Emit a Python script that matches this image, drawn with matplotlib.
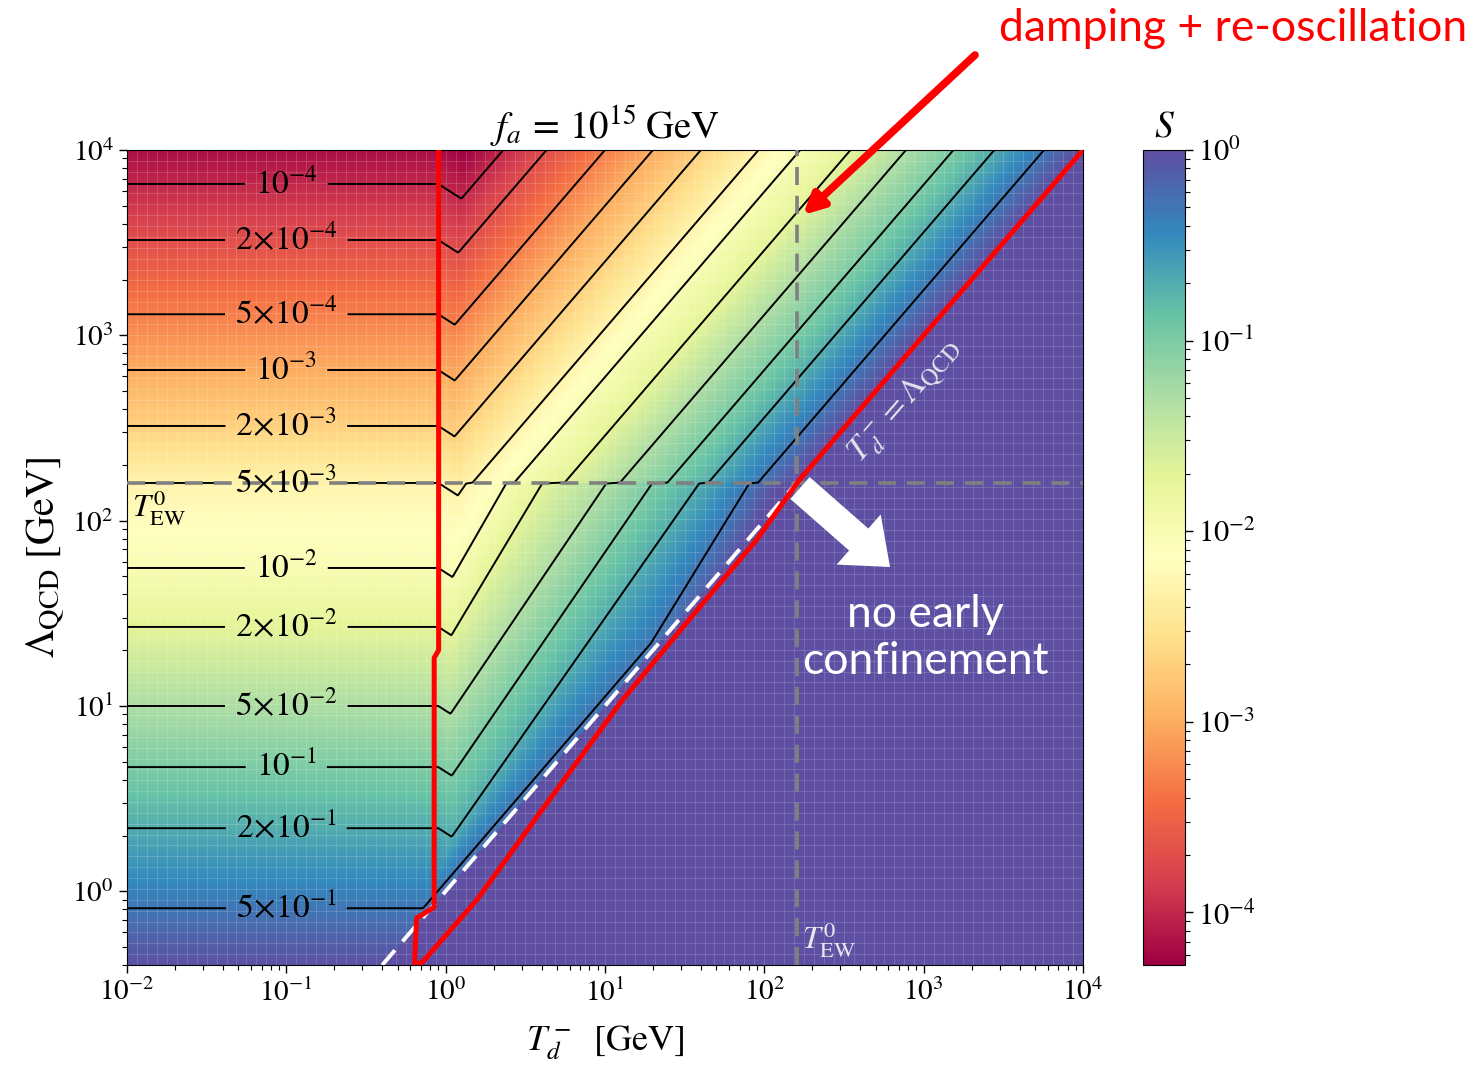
import numpy as np
import matplotlib.pyplot as plt
from matplotlib.colors import LogNorm

plt.rcParams['mathtext.fontset'] = 'stix'
plt.rcParams['font.family'] = 'STIXGeneral'

# contour levels of S
levels = [1e-4, 2e-4, 5e-4, 1e-3, 2e-3, 5e-3, 1e-2, 2e-2, 5e-2, 1e-1, 2e-1, 5e-1]
level_text = [r'$10^{-4}$', r'$2\!\times\!10^{-4}$', r'$5\!\times\!10^{-4}$',
              r'$10^{-3}$', r'$2\!\times\!10^{-3}$', r'$5\!\times\!10^{-3}$',
              r'$10^{-2}$', r'$2\!\times\!10^{-2}$', r'$5\!\times\!10^{-2}$',
              r'$10^{-1}$', r'$2\!\times\!10^{-1}$', r'$5\!\times\!10^{-1}$']

# Lambda_QCD [GeV] of each contour in the flat part (small T_d)
lam_flat = [6560, 3270, 1300, 650, 324, 160, 55.5, 26.7, 10.0, 4.68, 2.19, 0.81]
# T_d [GeV] where each contour reaches Lambda_QCD = 1e4 GeV
t_top = [2.3, 4.3, 10, 20, 40, 92, 168, 348, 775, 1540, 2780, 5700]

# below T_EW: anchor point of each contour and T_d where it meets T_EW
low_T = [1.14, 1.107, 1.107, 1.06, 1.09, 1.09, 20.0]
low_lam = [129, 49.7, 24.7, 8.93, 4.19, 1.96, 22.7]
low_T_ew = [1.355, 2.415, 4.06, 10.26, 19.9, 39.3, 80.9]

T_EW = 160.0
T_kink = 0.90
kink_slope = 0.55

# boundary of the damping + re-oscillation region
red_T = [0.904, 0.904, 0.848, 0.848, 0.658, 0.638, 0.707, 1.567, 3.89, 12.9,
         39.3, 89.1, 166, 1e4]
red_L = [1e4, 20.0, 18.2, 0.822, 0.716, 0.41, 0.41, 0.897, 2.64, 10.8,
         34.2, 78.5, 166, 1e4]

xmin, xmax = 1e-2, 1e4
ymin, ymax = 0.40, 1e4
vmin, vmax = 5.3e-5, 1.0
x_ticks = [1e-2, 1e-1, 1e0, 1e1, 1e2, 1e3, 1e4]
y_ticks = [1e0, 1e1, 1e2, 1e3, 1e4]


def interp_ext(x, xp, fp):
    # linear interpolation, linear extrapolation on both ends
    x = np.asarray(x, dtype=float)
    y = np.interp(x, xp, fp)
    lo = x < xp[0]
    hi = x > xp[-1]
    y[lo] = fp[0] + (x[lo] - xp[0]) * (fp[1] - fp[0]) / (xp[1] - xp[0])
    y[hi] = fp[-1] + (x[hi] - xp[-1]) * (fp[-1] - fp[-2]) / (xp[-1] - xp[-2])
    return y


logS_lev = np.log10(levels)
tx = np.linspace(np.log10(xmin), np.log10(xmax), 900)
ly = np.linspace(np.log10(ymin), np.log10(ymax), 800)
T, L = np.meshgrid(tx, ly)
lew = np.log10(T_EW)

# flat regime, with the small kink near T_d ~ 1 GeV
s_flat = interp_ext(L + kink_slope * np.maximum(T - np.log10(T_kink), 0),
                    np.log10(lam_flat)[::-1], logS_lev[::-1])

# diagonal regime above T_EW: S depends on Lambda/T
c_up = 4 - np.log10(t_top)
s_up = interp_ext(L - T, c_up[::-1], logS_lev[::-1])

# diagonal regime below T_EW
la = np.log10(low_lam)
ta = np.log10(low_T)
te = np.log10(low_T_ew)
q = (lew - la) / (te - ta)
logS_low = logS_lev[5:]
s_low = np.zeros_like(L)
for j, t in enumerate(tx):
    lines = la + q * (t - ta)
    lines = np.maximum(lines, t + 0.05)
    for i in range(len(lines) - 2, -1, -1):
        lines[i] = max(lines[i], lines[i + 1] + 1e-3)
    s_low[:, j] = interp_ext(ly, lines[::-1], logS_low[::-1])

logS = np.where(L >= lew, np.maximum(s_flat, s_up), np.maximum(s_flat, s_low))
logS = np.minimum(logS, 0.0)
logS[L < T] = 0.0
S = np.clip(10 ** logS, vmin, vmax)

X = 10 ** tx
Y = 10 ** ly

fig = plt.figure(figsize=(14.76, 10.70), dpi=100)
ax = fig.add_axes([0.0860, 0.0981, 0.6477, 0.7617])
cax = fig.add_axes([0.7744, 0.0981, 0.0285, 0.7617])

norm = LogNorm(vmin=vmin, vmax=vmax)
mesh = ax.pcolormesh(X, Y, S, cmap='Spectral', norm=norm, shading='auto',
                     rasterized=True)
ax.set_xscale('log')
ax.set_yscale('log')
ax.set_xlim(xmin, xmax)
ax.set_ylim(ymin, ymax)
ax.set_xticks(x_ticks)
ax.set_yticks(y_ticks)

# light cell grid
for gx in np.geomspace(xmin, xmax, 97)[1:-1]:
    ax.axvline(gx, color='white', alpha=0.18, lw=0.6, zorder=1.5)
for gy in np.geomspace(ymin, ymax, 76)[1:-1]:
    ax.axhline(gy, color='white', alpha=0.18, lw=0.6, zorder=1.5)

cs = ax.contour(X, Y, S, levels=levels, colors='k', linewidths=1.4, zorder=3)
fmt = dict(zip(cs.levels, level_text))
ax.clabel(cs, cs.levels, fmt=fmt, inline=True, inline_spacing=10, fontsize=24,
          manual=[(0.1, lam) for lam in lam_flat])

# reference lines
ax.axhline(T_EW, color='gray', lw=2.6, ls=(0, (5, 3)), zorder=4)
ax.axvline(T_EW, color='gray', lw=2.6, ls=(0, (5, 3)), zorder=4)
ax.plot([ymin, xmax], [ymin, xmax], color='white', lw=2.8, ls=(0, (5, 3)),
        zorder=5)
ax.plot(red_T, red_L, color='#ff0000', lw=3.6, zorder=6)

ax.text(0.0108, 150, r'$T_{\mathrm{EW}}^{0}$', fontsize=23, ha='left', va='top',
        zorder=7)
ax.text(172, 0.43, r'$T_{\mathrm{EW}}^{0}$', fontsize=23, ha='left',
        va='bottom', color='#e8e8f0', zorder=7)
ax.text(770, 440, r'$T_d^- = \Lambda_{\mathrm{QCD}}$', fontsize=24,
        color='#e4e4ec', rotation=49, ha='center', va='center',
        rotation_mode='anchor', zorder=7)

ax.set_title(r'$f_a\,=\,10^{15}\;\mathrm{GeV}$', fontsize=28, pad=8)
ax.set_xlabel(r'$T_d^-\ \ [\mathrm{GeV}]$', fontsize=26, labelpad=12)
ax.set_ylabel(r'$\Lambda_{\mathrm{QCD}}\ [\mathrm{GeV}]$', fontsize=29,
              labelpad=4)
ax.tick_params(which='major', labelsize=21, length=6, width=1)
ax.tick_params(which='minor', length=3.5, width=0.8)

cb = fig.colorbar(mesh, cax=cax)
cb.set_ticks([1e-4, 1e-3, 1e-2, 1e-1, 1e0])
cb.ax.tick_params(which='major', labelsize=22, length=6, width=1)
cb.ax.tick_params(which='minor', length=3.5, width=0.8)
cax.set_title(r'$S$', fontsize=27, pad=10)

# annotations
fig.text(0.8354, 0.9738, 'damping + re-oscillation', color='#ff0000',
         fontsize=32, family=['Lato', 'DejaVu Sans'], ha='center', va='center')
ax.annotate('', xy=(0.5440, 0.7991), xycoords='figure fraction',
            xytext=(0.6606, 0.9486), textcoords='figure fraction',
            arrowprops=dict(arrowstyle='-|>,head_length=1.2,head_width=0.6',
                            color='#ff0000', lw=5.5, shrinkA=0, shrinkB=0),
            annotation_clip=False, zorder=8)
ax.annotate('', xy=(0.6030, 0.4701), xycoords='figure fraction',
            xytext=(0.5420, 0.5439), textcoords='figure fraction',
            arrowprops=dict(arrowstyle='simple,head_length=1.0,head_width=1.6,'
                                       'tail_width=0.7',
                            color='white', lw=0, shrinkA=0, shrinkB=0,
                            mutation_scale=30),
            annotation_clip=False, zorder=8)
fig.text(0.6267, 0.4037, 'no early\nconfinement', color='white', fontsize=32,
         family=['Lato', 'DejaVu Sans'], ha='center', va='center',
         linespacing=1.2)

fig.savefig('out.png', dpi=100)
